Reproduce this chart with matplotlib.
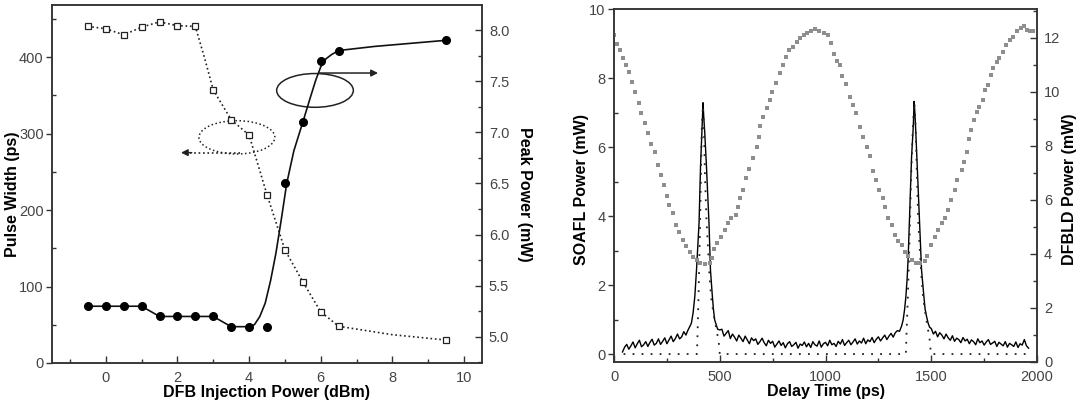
import numpy as np
import matplotlib
matplotlib.use("Agg")
import matplotlib.pyplot as plt
from matplotlib.patches import Ellipse
from matplotlib.ticker import MultipleLocator, FormatStrFormatter

plt.rcParams['font.family'] = ['Liberation Sans', 'DejaVu Sans']

# ---- left panel data ----
# pulse width (ps) vs DFB injection power (dBm), open squares
pw_x = [-0.5, 0, 0.5, 1.0, 1.5, 2.0, 2.5, 3.0, 3.5, 4.0, 4.5, 5.0, 5.5, 6.0, 6.5, 9.5]
pw_y = [440, 437, 429, 439, 446, 441, 440, 357, 318, 298, 220, 148, 106, 67, 48, 30]
# dotted guide line through the squares
pw_line_x = [-0.5, 0, 0.5, 1.0, 1.5, 2.0, 2.5, 2.75, 3.0, 3.5, 4.0, 4.5, 5.0, 5.5, 6.0, 6.5, 8.0, 9.5]
pw_line_y = [440, 437, 429, 439, 446, 441, 440, 400, 357, 318, 298, 220, 148, 106, 67, 48, 37, 30]

# peak power (mW), filled circles
pp_x = [-0.5, 0, 0.5, 1.0, 1.5, 2.0, 2.5, 3.0, 3.5, 4.0, 4.5, 5.0, 5.5, 6.0, 6.5, 9.5]
pp_y = [5.3, 5.3, 5.3, 5.3, 5.2, 5.2, 5.2, 5.2, 5.1, 5.1, 5.1, 6.5, 7.1, 7.7, 7.8, 7.9]
# solid fit line
fit_x = [-0.5, 0, 0.5, 1.0, 1.5, 2.0, 2.5, 3.0, 3.5, 4.0, 4.15, 4.3, 4.45, 4.6, 4.75,
         4.9, 5.05, 5.25, 5.5, 5.7, 5.86, 6.0, 6.15, 6.3, 6.5, 7.5, 8.5, 9.5]
fit_y = [5.3, 5.3, 5.3, 5.3, 5.2, 5.2, 5.2, 5.2, 5.1, 5.1, 5.12, 5.2, 5.33, 5.55, 5.82,
         6.15, 6.5, 6.82, 7.1, 7.33, 7.51, 7.64, 7.72, 7.76, 7.8, 7.84, 7.87, 7.9]

# ---- right panel data ----
# DFBLD power (mW), grey dots
dfb_x = [0, 14, 27, 41, 57, 70, 85, 100, 116, 129, 145, 161, 177, 193, 208, 224, 237, 250,
         262, 279, 292, 307, 324, 339, 358, 374, 390, 405, 429, 452, 462, 472, 488, 508,
         524, 539, 555, 576, 585, 595, 610, 626, 638, 655, 674, 686, 690, 705, 721, 737,
         749, 765, 784, 800, 815, 828, 847, 863, 878, 897, 913, 929, 949, 970, 992, 1012,
         1028, 1042, 1055, 1068, 1080, 1099, 1115, 1130, 1146, 1162, 1178, 1194, 1210,
         1224, 1239, 1255, 1270, 1281, 1297, 1313, 1328, 1344, 1360, 1375, 1391, 1407,
         1427, 1446, 1470, 1481, 1501, 1517, 1533, 1549, 1564, 1580, 1591, 1612, 1623,
         1643, 1654, 1667, 1679, 1690, 1703, 1714, 1727, 1743, 1754, 1770, 1781, 1793,
         1809, 1821, 1837, 1853, 1872, 1887, 1903, 1922, 1938, 1951, 1966, 1982]
dfb_y = [12.11, 11.77, 11.56, 11.25, 11.0, 10.73, 10.38, 10.01, 9.58, 9.21, 8.85, 8.49,
         8.07, 7.79, 7.3, 6.93, 6.56, 6.14, 5.81, 5.53, 5.07, 4.83, 4.52, 4.3, 4.09, 3.9,
         3.78, 3.68, 3.63, 3.66, 3.85, 4.17, 4.4, 4.64, 4.89, 5.14, 5.32, 5.44, 5.75, 6.06,
         6.37, 6.83, 7.14, 7.54, 7.97, 8.34, 8.75, 9.09, 9.4, 9.7, 10.01, 10.32, 10.69,
         11.0, 11.28, 11.56, 11.68, 11.86, 11.99, 12.11, 12.2, 12.27, 12.32, 12.27, 12.17,
         12.09, 11.8, 11.4, 11.15, 11.0, 10.6, 10.3, 9.83, 9.5, 9.21, 8.69, 8.34, 7.97,
         7.62, 7.07, 6.74, 6.38, 6.06, 5.73, 5.34, 5.07, 4.7, 4.49, 4.33, 4.09, 3.93, 3.78,
         3.68, 3.66, 3.75, 3.93, 4.33, 4.64, 4.89, 5.14, 5.32, 5.63, 6.0, 6.37, 6.74, 7.11,
         7.42, 7.79, 8.25, 8.6, 8.95, 9.27, 9.46, 9.7, 10.07, 10.26, 10.63, 10.88, 11.12,
         11.25, 11.49, 11.74, 11.93, 12.02, 12.24, 12.35, 12.44, 12.3, 12.27, 12.24]

# SOAFL power (mW), measured trace (baseline parts sampled every 10 ps)
base1_y = [0.06, 0.2, 0.28, 0.14, 0.24, 0.35, 0.18, 0.3, 0.4, 0.21, 0.27, 0.36, 0.22,
           0.34, 0.43, 0.26, 0.31, 0.44, 0.28, 0.37, 0.47, 0.3, 0.41, 0.52, 0.36, 0.45,
           0.58, 0.44, 0.5, 0.65, 0.55, 0.7, 0.82]
peak1_x = [366, 374, 382, 390, 396, 402, 409, 416, 421, 424, 429, 437, 443, 449, 456,
           465, 470, 476, 483, 490, 500]
peak1_y = [0.9, 1.2, 1.67, 2.44, 3.1, 3.8, 5.45, 6.5, 7.29, 6.9, 6.42, 5.45, 4.6, 3.8,
           2.44, 1.67, 1.3, 0.99, 0.85, 0.72, 0.7]
base2_y = [0.72, 0.52, 0.6, 0.68, 0.45, 0.58, 0.49, 0.38, 0.55, 0.46,
           0.36, 0.52, 0.41, 0.3, 0.47, 0.39, 0.44, 0.28, 0.36, 0.46,
           0.33, 0.24, 0.4, 0.31, 0.37, 0.2, 0.29, 0.38, 0.25, 0.33,
           0.18, 0.3, 0.36, 0.22, 0.27, 0.34, 0.17, 0.29, 0.25, 0.35,
           0.21, 0.31, 0.19, 0.36, 0.27, 0.23, 0.38, 0.2, 0.3, 0.34,
           0.24, 0.4, 0.27, 0.31, 0.22, 0.37, 0.29, 0.42, 0.25, 0.33,
           0.4, 0.27, 0.35, 0.44, 0.29, 0.38, 0.32, 0.46, 0.3, 0.41,
           0.36, 0.48, 0.33, 0.43, 0.5, 0.38, 0.47, 0.55, 0.42, 0.52,
           0.6, 0.49, 0.62, 0.68, 0.66, 0.82]
peak2_x = [1367, 1374, 1380, 1386, 1391, 1399, 1407, 1415, 1419, 1423, 1427, 1435, 1441,
           1446, 1454, 1465, 1471, 1478, 1485, 1492]
peak2_y = [0.99, 1.3, 1.67, 2.2, 2.83, 4.28, 5.74, 6.61, 7.33, 6.95, 6.42, 5.25, 4.4,
           3.6, 2.44, 1.67, 1.3, 1.08, 0.9, 0.78]
base3_y = [0.74, 0.58, 0.66, 0.5, 0.62, 0.55, 0.44, 0.58, 0.47, 0.4,
           0.53, 0.37, 0.46, 0.42, 0.33, 0.48, 0.38, 0.43, 0.3, 0.41,
           0.36, 0.27, 0.44, 0.33, 0.38, 0.26, 0.35, 0.42, 0.28, 0.32,
           0.37, 0.22, 0.34, 0.29, 0.24, 0.36, 0.2, 0.31, 0.27, 0.22,
           0.35, 0.19, 0.3, 0.26, 0.42, 0.24, 0.17]

# calculated pulse, dotted
calc_x = [45, 392, 395, 400, 406, 411, 415, 420, 425, 430, 437, 445, 452, 460, 472, 485,
          495, 500, 1380, 1383, 1390, 1398, 1405, 1413, 1420, 1426, 1432, 1438, 1446, 1454,
          1462, 1474, 1485, 1494, 1498, 1965]
calc_y = [0, 0, 0.6, 1.8, 3.5, 5.2, 6.6, 7.2, 6.6, 5.2, 3.9, 3.0, 2.2, 1.6, 1.1, 0.7,
          0.35, 0, 0, 0.6, 1.8, 3.5, 5.2, 6.6, 7.3, 6.6, 5.2, 3.9, 3.0, 2.2, 1.6, 1.1, 0.7,
          0.35, 0, 0]

soa_x = np.concatenate([np.arange(40, 361, 10), peak1_x, np.arange(510, 1361, 10),
                        peak2_x, np.arange(1500, 1961, 10)])
soa_y = np.concatenate([base1_y, peak1_y, base2_y, peak2_y, base3_y])

tick_c = '#444444'
spine_c = '#333333'
lab_fs = 11.5


def style(ax, ax2):
    for a in (ax, ax2):
        for s in a.spines.values():
            s.set_color(spine_c)
            s.set_linewidth(1.1)
    ax.tick_params(axis='y', which='major', direction='out', length=4, width=1,
                   colors=spine_c, labelcolor=tick_c, labelsize=10.5, pad=2)
    ax.tick_params(axis='y', which='minor', direction='in', length=3, width=1, colors=spine_c)
    ax.tick_params(axis='x', which='major', direction='in', length=5, width=1,
                   colors=spine_c, labelcolor=tick_c, labelsize=10.5, pad=6)
    ax.tick_params(axis='x', which='minor', direction='in', length=3, width=1, colors=spine_c)
    ax2.tick_params(axis='y', which='major', direction='in', length=5, width=1,
                    colors=spine_c, labelcolor=tick_c, labelsize=10.5, pad=5)
    ax2.tick_params(axis='y', which='minor', direction='in', length=3, width=1, colors=spine_c)


fig = plt.figure(figsize=(10.86, 4.04), dpi=100)

# ---------- left panel ----------
ax = fig.add_axes([0.0479, 0.1015, 0.3959, 0.8861])
ax2 = ax.twinx()

ax.plot(pw_line_x, pw_line_y, ':', color='#222222', lw=1.2)
ax.plot(pw_x, pw_y, 's', mfc='white', mec='#222222', mew=0.9, ms=4.5)
ax2.plot(fit_x, fit_y, '-', color='#111111', lw=1.2)
ax2.plot(pp_x, pp_y, 'o', color='black', ms=5.5)

ax.set_xlim(-1.5, 10.5)
ax.set_ylim(0, 468)
ax2.set_ylim(4.745, 8.245)
ax.xaxis.set_major_locator(MultipleLocator(2))
ax.xaxis.set_minor_locator(MultipleLocator(1))
ax.yaxis.set_major_locator(MultipleLocator(100))
ax.yaxis.set_minor_locator(MultipleLocator(50))
ax2.yaxis.set_major_locator(MultipleLocator(0.5))
ax2.yaxis.set_minor_locator(MultipleLocator(0.25))
ax2.yaxis.set_major_formatter(FormatStrFormatter('%.1f'))
style(ax, ax2)

ax.set_xlabel('DFB Injection Power (dBm)', fontsize=lab_fs, fontweight='bold', labelpad=0)
ax.set_ylabel('Pulse Width (ps)', fontsize=lab_fs, fontweight='bold', va='center')
ax.yaxis.set_label_coords(-0.092, 0.47)
ax2.set_ylabel('Peak Power (mW)', fontsize=lab_fs, fontweight='bold', rotation=270, va='center')
ax2.yaxis.set_label_coords(1.099, 0.47)

# ellipse + arrow marking the peak-power curve
ax2.add_patch(Ellipse((5.84, 7.41), 2.14, 0.33, fill=False, ec='#222222', lw=1.1))
ax2.annotate('', xy=(7.6, 7.58), xytext=(5.95, 7.58),
             arrowprops=dict(arrowstyle='-|>', color='#222222', lw=1.1,
                             mutation_scale=10, shrinkA=0, shrinkB=0))
# dotted ellipse + arrow marking the pulse-width curve
ax.add_patch(Ellipse((3.66, 295), 2.12, 43.5, fill=False, ec='#222222', lw=1.1, ls=':'))
ax.plot([3.76, 2.35], [275, 275], ':', color='#222222', lw=1.2)
ax.annotate('', xy=(2.1, 275), xytext=(2.4, 275),
            arrowprops=dict(arrowstyle='-|>', color='#222222', lw=1.0,
                            mutation_scale=10, shrinkA=0, shrinkB=0))

# ---------- right panel ----------
bx = fig.add_axes([0.5654, 0.104, 0.3895, 0.873])
bx2 = bx.twinx()

bx.plot(soa_x, soa_y, '-', color='black', lw=1.0, zorder=3)
bx.plot(calc_x, calc_y, color='#222222', lw=1.3, ls=(0, (1, 4)), zorder=4)
bx2.plot(dfb_x, dfb_y, 's', color='#8e8e8e', ms=3.5, mew=0)

bx.set_xlim(0, 2000)
bx.set_ylim(-0.23, 10)
bx2.set_ylim(0, 13.06)
bx.xaxis.set_major_locator(MultipleLocator(500))
bx.xaxis.set_minor_locator(MultipleLocator(250))
bx.yaxis.set_major_locator(MultipleLocator(2))
bx.yaxis.set_minor_locator(MultipleLocator(1))
bx2.yaxis.set_major_locator(MultipleLocator(2))
bx2.yaxis.set_minor_locator(MultipleLocator(1))
style(bx, bx2)

bx.set_xlabel('Delay Time (ps)', fontsize=lab_fs, fontweight='bold', labelpad=0)
bx.set_ylabel('SOAFL Power (mW)', fontsize=lab_fs, fontweight='bold', va='center')
bx.yaxis.set_label_coords(-0.077, 0.49)
bx2.set_ylabel('DFBLD Power (mW)', fontsize=lab_fs, fontweight='bold', rotation=90, va='center')
bx2.yaxis.set_label_coords(1.077, 0.49)

fig.savefig('out.png', dpi=100)
